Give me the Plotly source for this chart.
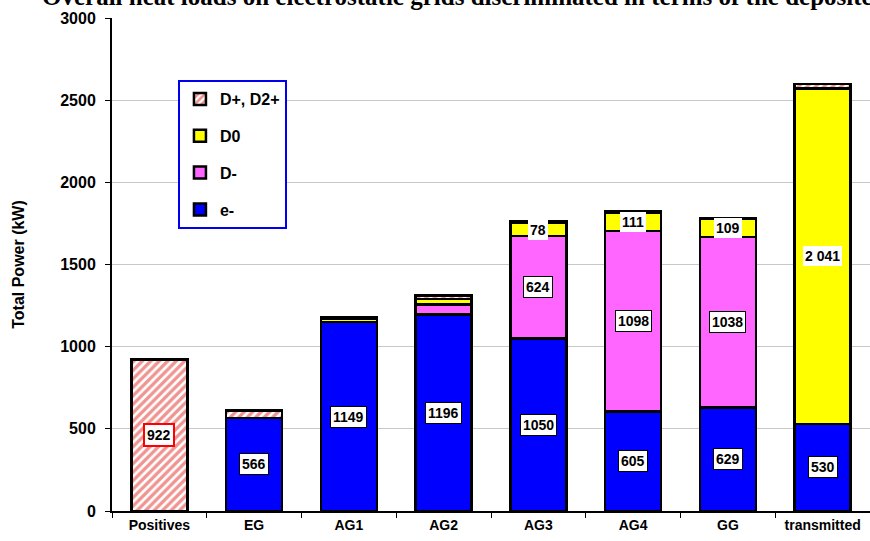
import plotly.graph_objects as go

# Grid locations (x categories)
categories = ["Positives", "EG", "AG1", "AG2", "AG3", "AG4", "GG", "transmitted"]

# Power deposited per particle species (kW)
electrons = [0, 566, 1149, 1196, 1050, 605, 629, 530]
d_minus = [0, 0, 0, 60, 624, 1098, 1038, 0]
d_zero = [0, 0, 20, 35, 78, 111, 109, 2041]
d_plus = [922, 45, 12, 20, 10, 10, 5, 28]

# Value labels shown on the segments (None = unlabelled)
electrons_labels = [None, "566", "1149", "1196", "1050", "605", "629", "530"]
d_minus_labels = [None, None, None, None, "624", "1098", "1038", None]
d_zero_labels = [None, None, None, None, "78", "111", "109", "2 041"]
d_plus_labels = ["922", None, None, None, None, None, None, None]

BLUE = "#0000FF"
PINK = "#FF66FF"
YELLOW = "#FFFF00"
HATCH_RED = "#E02A24"
SANS = "Liberation Sans, Arial, sans-serif"

# (legend name, values, marker style, legend rank) – drawn bottom to top
series = [
    ("e-", electrons, dict(color=BLUE), 4),
    ("D-", d_minus, dict(color=PINK), 3),
    ("D0", d_zero, dict(color=YELLOW), 2),
    ("D+, D2+", d_plus, dict(color="white",
                             pattern=dict(shape="/", fgcolor=HATCH_RED, bgcolor="white",
                                          size=6, solidity=0.55)), 1),
]

fig = go.Figure()
for name, values, marker, rank in series:
    fig.add_trace(go.Bar(
        x=categories, y=values, name=name, legendgroup=name, legendrank=rank,
        width=0.59,
        marker=dict(**marker, line=dict(color="black", width=2.5)),
        hoverinfo="x+y+name",
    ))

# Segment value labels, centred on each stacked segment
label_sets = [
    (electrons, electrons_labels, "black", 1),
    (d_minus, d_minus_labels, "black", 1),
    (d_zero, d_zero_labels, "rgba(0,0,0,0)", 0),
    (d_plus, d_plus_labels, "#FF0000", 2),
]
base = [0] * len(categories)
for values, labels, border, bw in label_sets:
    for i, (v, lab) in enumerate(zip(values, labels)):
        if lab is not None:
            fig.add_annotation(
                x=categories[i], y=base[i] + v / 2, text=lab, showarrow=False,
                font=dict(family=SANS, size=14, color="black", weight="bold"),
                bgcolor="white", bordercolor=border, borderwidth=bw, borderpad=2,
            )
    base = [b + v for b, v in zip(base, values)]

fig.add_annotation(
    xref="paper", yref="paper", x=-0.095, y=1.043, xanchor="left", yanchor="middle",
    text="Overall heat loads on electrostatic grids discriminated in terms of the deposited particles",
    showarrow=False,
    font=dict(family="Liberation Serif, Times New Roman, serif", size=25, color="black", weight="bold"),
)

fig.update_layout(
    width=870, height=541,
    margin=dict(l=112, r=0, t=18, b=30),
    paper_bgcolor="white", plot_bgcolor="white",
    barmode="stack",
    bargap=0.41,
    showlegend=True,
    legend=dict(
        x=0.087, y=0.874, xanchor="left", yanchor="top",
        traceorder="grouped", tracegroupgap=13,
        bgcolor="white", bordercolor="#0000EE", borderwidth=2,
        font=dict(family=SANS, size=16, color="black", weight="bold"),
        itemwidth=30,
    ),
    xaxis=dict(
        range=[-0.5, 7.5], showline=True, linecolor="black", linewidth=2,
        ticks="outside", tickson="boundaries", ticklen=5, tickcolor="black",
        tickfont=dict(family=SANS, size=14, color="black", weight="bold"),
        showgrid=False,
    ),
    yaxis=dict(
        range=[0, 3000], tickvals=[0, 500, 1000, 1500, 2000, 2500, 3000],
        showline=True, linecolor="black", linewidth=2,
        ticks="outside", ticklen=5, tickcolor="black", ticklabelstandoff=6,
        tickfont=dict(family=SANS, size=16, color="black", weight="bold"),
        showgrid=True, gridcolor="#C8C8C8", gridwidth=1, zeroline=False,
        title=dict(text="Total Power (kW)", standoff=32,
                   font=dict(family=SANS, size=16, color="black", weight="bold")),
    ),
)

fig.write_html("out.html")
